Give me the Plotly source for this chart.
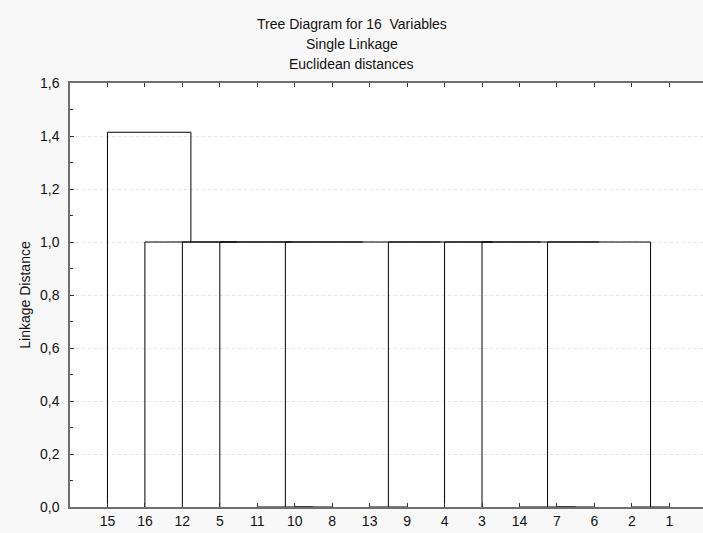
import plotly.graph_objects as go

# ---- data ----
leaf_labels = ["15", "16", "12", "5", "11", "10", "8", "13", "9", "4", "3", "14", "7", "6", "2", "1"]
# merges: (left member, right member, linkage distance); members are leaf labels or "C<k>" (k-th merge)
merge_left = ["10", "11", "13", "7", "14", "2", "C4", "3", "4", "C2", "C1", "5", "12", "16", "15"]
merge_right = ["8", "C0", "9", "6", "C3", "1", "C5", "C6", "C7", "C8", "C9", "C10", "C11", "C12", "C13"]
merge_height = [0.0, 0.0, 0.0, 0.0, 0.0, 0.0, 1.0, 1.0, 1.0, 1.0, 1.0, 1.0, 1.0, 1.0, 1.4142]

title_lines = ["Tree Diagram for 16  Variables", "Single Linkage", "Euclidean distances"]
y_title = "Linkage Distance"

# ---- build dendrogram segments ----
pos = {lab: i + 1 for i, lab in enumerate(leaf_labels)}
hgt = {lab: 0.0 for lab in leaf_labels}
xs, ys = [], []
for k, (a, b, h) in enumerate(zip(merge_left, merge_right, merge_height)):
    xa, xb = pos[a], pos[b]
    ha, hb = hgt[a], hgt[b]
    xs += [xa, xa, xb, xb, None]
    ys += [ha, h, h, hb, None]
    name = f"C{k}"
    pos[name] = (xa + xb) / 2
    hgt[name] = h

fig = go.Figure()
fig.add_trace(go.Scatter(x=xs, y=ys, mode="lines",
                         line=dict(color="#000000", width=1),
                         hoverinfo="skip", showlegend=False))

font = dict(family="Liberation Sans, Arial, sans-serif", size=14, color="#111111")
tfont = dict(family="Liberation Sans, Arial, sans-serif", size=14, color="#111111")

fig.update_layout(
    width=703, height=533,
    margin=dict(l=70, r=0, t=83, b=26),
    paper_bgcolor="#f8f8f8",
    plot_bgcolor="#ffffff",
    separators=", ",
    font=font,
    showlegend=False,
)

for i, t in enumerate(title_lines):
    fig.add_annotation(text=t, xref="paper", yref="paper",
                       x=(351.5 - 70) / 633, y=1 + (83 - (24 + 20 * i)) / 424,
                       xanchor="center", yanchor="middle", showarrow=False,
                       font=tfont)

fig.update_xaxes(
    range=[0, 16.9],
    tickmode="array",
    tickvals=list(range(1, len(leaf_labels) + 1)),
    ticktext=leaf_labels,
    ticks="inside", ticklen=4, tickcolor="#333333", tickwidth=1,
    showline=True, linecolor="#6e6e6e", linewidth=1.5,
    mirror="ticks",
    showgrid=False, zeroline=False,
    tickfont=font,
)
fig.update_yaxes(
    range=[0, 1.6],
    tickmode="linear", tick0=0, dtick=0.2,
    tickformat=".1f",
    ticks="inside", ticklen=4, tickcolor="#333333", tickwidth=1,
    minor=dict(dtick=0.1, ticks="inside", ticklen=3, tickcolor="#333333", showgrid=False),
    showline=True, linecolor="#6e6e6e", linewidth=1.5,
    showgrid=True, gridcolor="#e2e2e2", griddash="dot", gridwidth=1,
    zeroline=False,
    ticklabelstandoff=6,
    tickfont=font,
    title=dict(text=y_title, font=tfont, standoff=6),
)

fig.write_html("out.html")
